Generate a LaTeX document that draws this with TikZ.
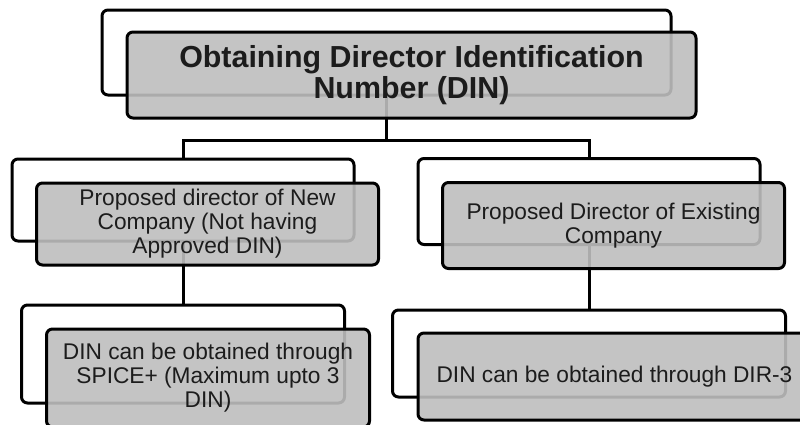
\documentclass[tikz,border=0pt]{standalone}
\usepackage{fontspec}
\setmainfont{Liberation Sans}
\definecolor{boxgray}{RGB}{190,190,190}
\definecolor{textdark}{RGB}{28,28,28}
\begin{document}
\begin{tikzpicture}[x=1pt,y=-1pt,
  backbox/.style={rectangle, draw=black, fill=white, line width=3pt,
    rounded corners=6pt, inner sep=0pt, outer sep=0pt},
  frontbox/.style={rectangle, draw=black, fill=boxgray, fill opacity=0.9,
    text opacity=1, line width=3pt, rounded corners=6pt, inner sep=0pt,
    outer sep=0pt, align=center, text=textdark},
  headfont/.style={font=\fontsize{30.4}{31}\selectfont\bfseries},
  bodyfont/.style={font=\fontsize{22.7}{24}\selectfont},
  link/.style={draw=black, line width=3pt}]
\useasboundingbox (0,0) rectangle (800,424);

% back (outline) boxes
\node[backbox, minimum width=569pt, minimum height=85pt] (hb) at (386.5,52.5) {};
\node[backbox, minimum width=342pt, minimum height=82pt] (lb) at (183,200) {};
\node[backbox, minimum width=342pt, minimum height=86pt] (rb) at (589,201.5) {};
\node[backbox, minimum width=323pt, minimum height=98pt] (llb) at (183,354) {};
\node[backbox, minimum width=393pt, minimum height=87pt] (lrb) at (589,353.5) {};

% connectors
\coordinate (split) at (386.5,140);
\draw[link] (hb.south) -- (split);
\draw[link] (split) -| (lb.north);
\draw[link] (split) -| (rb.north);
\draw[link] (lb.south) -- (llb.north);
\draw[link] (rb.south) -- (lrb.north);

% front (filled) boxes with the labels
\node[frontbox, headfont, minimum width=569pt, minimum height=86pt] (hf) at (411.5,75)
  {Obtaining Director Identification\\Number (DIN)};
\node[frontbox, bodyfont, minimum width=342pt, minimum height=82pt] (lf) at (207.5,224)
  {Proposed director of New\\Company (Not having\\Approved DIN)};
\node[frontbox, bodyfont, minimum width=342pt, minimum height=86pt] (rf) at (613.5,225.5)
  {Proposed Director of Existing\\Company};
\node[frontbox, bodyfont, minimum width=323pt, minimum height=98pt] (llf) at (208,378)
  {DIN can be obtained through\\SPICE+ (Maximum upto 3\\DIN)};
\node[frontbox, bodyfont, minimum width=393pt, minimum height=87pt] (lrf) at (614.5,376.5)
  {DIN can be obtained through DIR-3};
\end{tikzpicture}
\end{document}
